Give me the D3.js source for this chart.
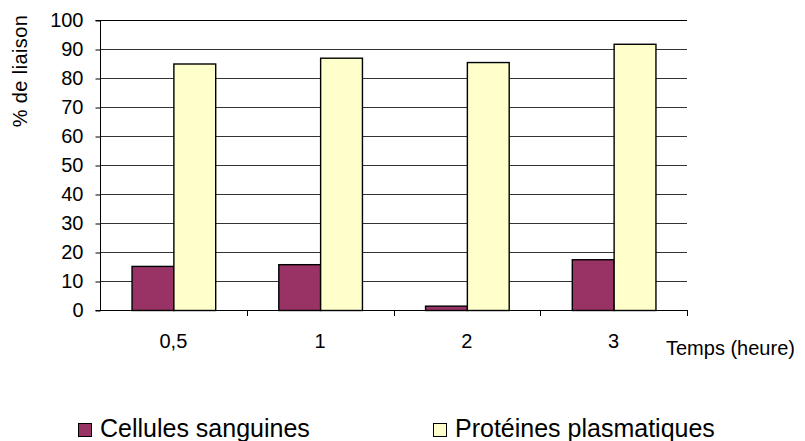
<!DOCTYPE html>
<html>
<head>
<meta charset="utf-8">
<script src="https://cdn.jsdelivr.net/npm/d3@7/dist/d3.min.js"></script>
<style>
  html, body { margin: 0; padding: 0; background: #fff; }
  svg { display: block; font-family: "Liberation Sans", Arial, sans-serif; }
</style>
</head>
<body>
<svg id="chart" width="805" height="441"></svg>
<script>
// Time points (hours) and binding percentages
const categories = ["0,5", "1", "2", "3"];
const seriesNames = ["Cellules sanguines", "Protéines plasmatiques"];
const cellules = [15.2, 15.8, 1.5, 17.5];
const proteines = [85, 87, 85.5, 91.8];
const yTicks = [0, 10, 20, 30, 40, 50, 60, 70, 80, 90, 100];
const colors = ["#993366", "#FFFFCC"];

const svg = d3.select("#chart");
const W = 805, H = 441;
const x0 = 100, x1 = 687;
const yTop = 20, yBot = 310;

const x = d3.scaleBand().domain(categories).range([x0, x1]).paddingInner(0.43).paddingOuter(0.215);
const xs = d3.scaleBand().domain(seriesNames).range([0, x.bandwidth()]);
const y = d3.scaleLinear().domain([0, 100]).range([yBot, yTop]);

// Horizontal gridlines
svg.append("g").selectAll("line").data(yTicks.filter(t => t > 0)).join("line")
  .attr("x1", x0).attr("x2", x1)
  .attr("y1", d => y(d) + 0.5).attr("y2", d => y(d) + 0.5)
  .attr("stroke", d => d === 100 ? "#000" : "#333").attr("stroke-width", 1);

// Bars
const rows = categories.map((c, i) => ({ c, vals: [cellules[i], proteines[i]] }));
const groups = svg.append("g").selectAll("g").data(rows).join("g")
  .attr("transform", d => `translate(${x(d.c)},0)`);
groups.selectAll("rect").data(d => d.vals.map((v, j) => ({ v, j }))).join("rect")
  .attr("x", d => xs(seriesNames[d.j]) + 0.5)
  .attr("y", d => y(d.v) + 0.5)
  .attr("width", xs.bandwidth())
  .attr("height", d => yBot - y(d.v))
  .attr("fill", d => colors[d.j])
  .attr("stroke", "#000").attr("stroke-width", 1.4);

// Y axis
const yAxis = d3.axisLeft(y).tickValues(yTicks).tickSize(5).tickPadding(12).tickFormat(d3.format("d"));
const gy = svg.append("g").attr("transform", `translate(${x0 + 0.5},0.5)`).call(yAxis);
gy.select(".domain").attr("stroke", "#000").attr("d", `M-5,${yTop}H0V${yBot}H-5`);
gy.selectAll(".tick line").attr("stroke", "#000");
gy.selectAll("text").attr("font-size", 20).attr("fill", "#000")
  .attr("font-family", "Liberation Sans, Arial, sans-serif");

// X axis line with boundary ticks between categories
const bounds = d3.range(categories.length + 1).map(i => x0 + i * (x1 - x0) / categories.length);
svg.append("line").attr("x1", x0).attr("x2", x1 + 0.5)
  .attr("y1", yBot + 0.5).attr("y2", yBot + 0.5).attr("stroke", "#000");
svg.append("g").selectAll("line").data(bounds.slice(1)).join("line")
  .attr("x1", d => Math.round(d) + 0.5).attr("x2", d => Math.round(d) + 0.5)
  .attr("y1", yBot).attr("y2", yBot + 6).attr("stroke", "#000");

// Category labels
svg.append("g").selectAll("text").data(categories).join("text")
  .attr("x", d => x(d) + x.bandwidth() / 2)
  .attr("y", 348)
  .attr("text-anchor", "middle")
  .attr("font-size", 20).attr("fill", "#000")
  .text(d => d);

// Axis titles
svg.append("text").attr("x", 666).attr("y", 355)
  .attr("font-size", 20).attr("fill", "#000").text("Temps (heure)");
svg.append("text")
  .attr("transform", "translate(27,71) rotate(-90)")
  .attr("text-anchor", "middle")
  .attr("font-size", 20).attr("letter-spacing", 0.4).attr("fill", "#000")
  .text("% de liaison");

// Legend
const legendX = [100, 455];
const lg = svg.append("g").selectAll("g").data(seriesNames).join("g")
  .attr("transform", (d, i) => `translate(${legendX[i]},437)`);
lg.append("rect").attr("x", -21.5).attr("y", -13.5).attr("width", 13).attr("height", 13)
  .attr("fill", (d, i) => colors[i]).attr("stroke", "#000");
lg.append("text").attr("x", 0).attr("y", 0)
  .attr("font-size", 25).attr("fill", "#000").text(d => d);
</script>
</body>
</html>
